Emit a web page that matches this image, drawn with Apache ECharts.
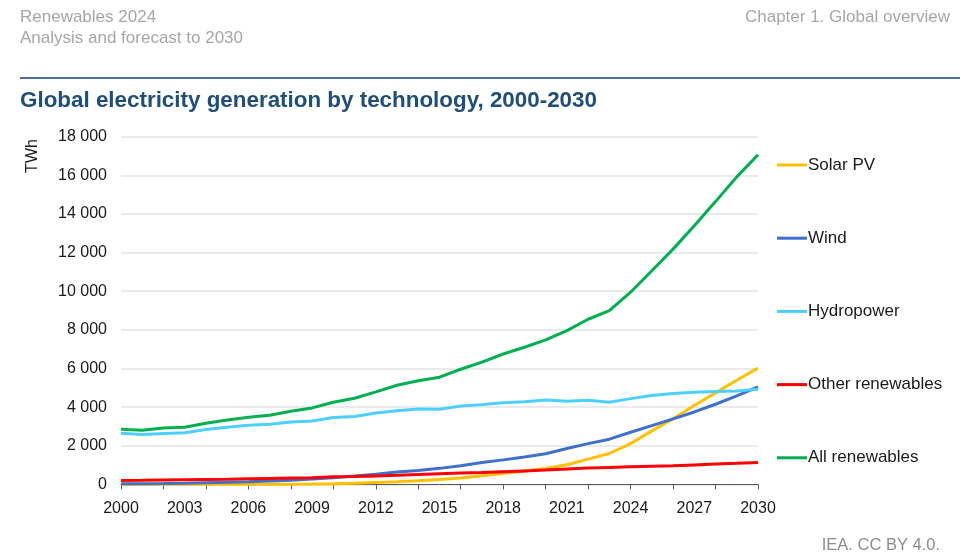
<!DOCTYPE html>
<html>
<head>
<meta charset="utf-8">
<script src="https://cdn.jsdelivr.net/npm/echarts@6/dist/echarts.min.js"></script>
<style>
html,body{margin:0;padding:0;background:#fff;}
#chart{width:960px;height:558px;}
</style>
</head>
<body>
<div id="chart"></div>
<script>
var years = [];
for (var y = 2000; y <= 2030; y++) years.push(String(y));

var solarPV = [1, 2, 2, 3, 4, 5, 6, 8, 12, 20, 32, 63, 100, 135, 190, 250, 330, 450, 570, 690, 830, 1020, 1310, 1600, 2110, 2770, 3400, 4080, 4740, 5390, 6020];
var wind = [30, 40, 50, 65, 85, 105, 135, 170, 220, 275, 345, 440, 520, 640, 720, 830, 960, 1130, 1270, 1420, 1590, 1860, 2110, 2340, 2700, 3040, 3390, 3750, 4150, 4580, 5050];
var hydropower = [2650, 2580, 2640, 2670, 2840, 2960, 3060, 3110, 3230, 3280, 3460, 3520, 3700, 3810, 3900, 3890, 4060, 4130, 4230, 4280, 4370, 4310, 4360, 4250, 4440, 4600, 4700, 4770, 4810, 4830, 4930];
var otherRenewables = [200, 210, 225, 240, 255, 270, 290, 310, 330, 350, 390, 410, 440, 470, 510, 550, 590, 620, 660, 700, 740, 800, 850, 880, 910, 940, 970, 1010, 1050, 1090, 1140];
var allRenewables = [2860, 2800, 2920, 2960, 3170, 3330, 3480, 3580, 3790, 3960, 4250, 4460, 4790, 5130, 5370, 5550, 5960, 6330, 6750, 7100, 7480, 7960, 8550, 9000, 9950, 11060, 12180, 13390, 14640, 15920, 17070];

var seriesNames = ['Solar PV', 'Wind', 'Hydropower', 'Other renewables', 'All renewables'];
var seriesData = [solarPV, wind, hydropower, otherRenewables, allRenewables];
var seriesColors = ['#FFC000', '#3E70CC', '#4DCFFF', '#FF0000', '#00B050'];

var yTicks = [0, 2000, 4000, 6000, 8000, 10000, 12000, 14000, 16000, 18000];

var chart = echarts.init(document.getElementById('chart'));
var FONT = 'Liberation Sans, Arial, sans-serif';

var option = {
  animation: false,
  backgroundColor: '#ffffff',
  textStyle: { fontFamily: FONT },
  title: [
    { text: 'Renewables 2024', left: 15, top: 4, textStyle: { fontFamily: FONT, fontSize: 17, fontWeight: 'normal', color: '#a6a6a6' } },
    { text: 'Analysis and forecast to 2030', left: 15, top: 25, textStyle: { fontFamily: FONT, fontSize: 17, fontWeight: 'normal', color: '#a6a6a6' } },
    { text: 'Chapter 1. Global overview', right: 5, top: 4, textStyle: { fontFamily: FONT, fontSize: 17, fontWeight: 'normal', color: '#a6a6a6' } },
    { text: 'Global electricity generation by technology, 2000-2030', left: 15, top: 85, textStyle: { fontFamily: FONT, fontSize: 22.4, fontWeight: 'bold', color: '#1F4E79' } },
    { text: 'IEA. CC BY 4.0.', right: 15, top: 532, textStyle: { fontFamily: FONT, fontSize: 16.5, fontWeight: 'normal', color: '#8c8c8c' } }
  ],
  graphic: [
    { type: 'rect', shape: { x: 20, y: 77, width: 940, height: 2 }, style: { fill: '#4F6F99' }, silent: true },
    { type: 'text', x: 33, y: 156, rotation: Math.PI / 2, style: { text: 'TWh', fill: '#1a1a1a', font: '16px ' + FONT, align: 'center', verticalAlign: 'middle' }, silent: true }
  ],
  legend: {
    orient: 'vertical',
    left: 772,
    top: 151,
    icon: 'rect',
    itemWidth: 30,
    itemHeight: 3,
    itemGap: 55.2,
    data: seriesNames,
    textStyle: { fontFamily: FONT, fontSize: 17, color: '#1a1a1a', lineHeight: 18, padding: [0, 0, 0, -4] }
  },
  grid: { left: 121, right: 202, top: 136.7, bottom: 73.6, containLabel: false },
  xAxis: {
    type: 'category',
    data: years,
    boundaryGap: false,
    axisLine: { lineStyle: { color: '#595959', width: 1 } },
    axisTick: { show: true, interval: function (i) { return i % 2 === 0; }, length: 5, lineStyle: { color: '#595959' } },
    axisLabel: { interval: function (i) { return i % 3 === 0; }, fontSize: 16, color: '#1a1a1a', margin: 16, fontFamily: FONT }
  },
  yAxis: {
    type: 'value',
    min: yTicks[0],
    max: yTicks[yTicks.length - 1],
    interval: 2000,
    axisLine: { show: false },
    axisTick: { show: false },
    axisLabel: {
      fontSize: 16, color: '#1a1a1a', margin: 14, fontFamily: FONT,
      formatter: function (v) { return String(v).replace(/\B(?=(\d{3})+(?!\d))/g, ' '); }
    },
    splitLine: { lineStyle: { color: '#e3e3e3', width: 1.5 } }
  },
  series: seriesNames.map(function (name, i) {
    return {
      name: name,
      type: 'line',
      data: seriesData[i],
      symbol: 'none',
      showSymbol: false,
      smooth: false,
      lineStyle: { width: 3, color: seriesColors[i] },
      itemStyle: { color: seriesColors[i] },
      z: 2 + i
    };
  })
};
chart.setOption(option);
</script>
</body>
</html>
